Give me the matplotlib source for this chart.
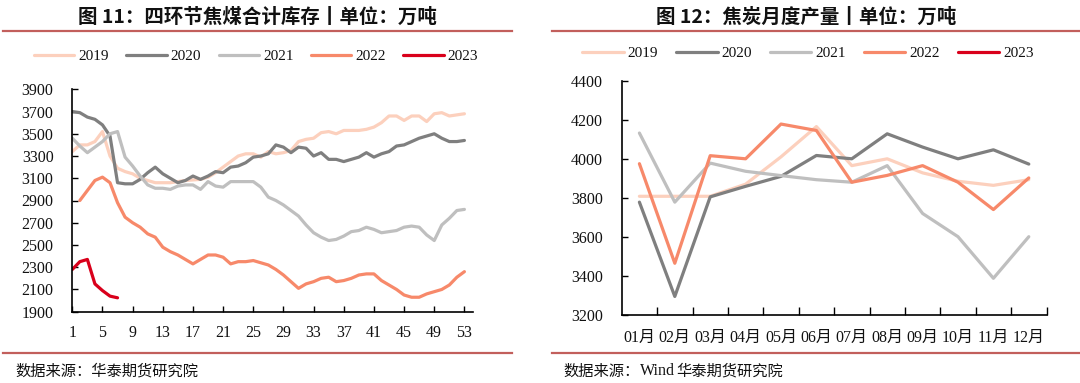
import numpy as np
import matplotlib
matplotlib.use("Agg")
import matplotlib.pyplot as plt
from matplotlib.lines import Line2D

# ---------------- data ----------------
weeks = list(range(1, 54))
week_ticks = list(range(1, 54, 4))

inv_2019 = [3340, 3400, 3400, 3430, 3520, 3300, 3190, 3160, 3140, 3100,
            3080, 3060, 3060, 3060, 3070, 3080, 3085, 3090, 3110, 3150,
            3200, 3250, 3300, 3320, 3320, 3290, 3340, 3320, 3330, 3350,
            3430, 3450, 3460, 3510, 3520, 3500, 3530, 3530, 3530, 3540,
            3560, 3600, 3660, 3660, 3620, 3660, 3660, 3610, 3680, 3690,
            3660, 3670, 3680]
inv_2020 = [3700, 3690, 3650, 3630, 3580, 3480, 3060, 3050, 3050, 3090,
            3150, 3200, 3140, 3100, 3060, 3080, 3120, 3090, 3120, 3160,
            3150, 3200, 3210, 3240, 3290, 3300, 3320, 3400, 3380, 3330,
            3380, 3370, 3300, 3330, 3270, 3270, 3250, 3270, 3290, 3330,
            3290, 3320, 3340, 3390, 3400, 3430, 3460, 3480, 3500, 3460,
            3430, 3430, 3440]
inv_2021 = [3460, 3390, 3330, 3380, 3430, 3500, 3520, 3290, 3210, 3120,
            3040, 3010, 3010, 3000, 3030, 3040, 3040, 3000, 3070, 3030,
            3020, 3070, 3070, 3070, 3070, 3020, 2930, 2900, 2860, 2810,
            2760, 2680, 2610, 2570, 2540, 2550, 2580, 2620, 2630, 2660,
            2640, 2610, 2620, 2630, 2660, 2670, 2660, 2590, 2540, 2680,
            2740, 2810, 2820]
inv_2022 = [None, 2900, 2990, 3080, 3110, 3060, 2880, 2750, 2700, 2660,
            2600, 2570, 2480, 2440, 2410, 2370, 2330, 2370, 2410, 2410,
            2390, 2330, 2350, 2350, 2360, 2340, 2320, 2280, 2230, 2170,
            2110, 2150, 2170, 2200, 2210, 2170, 2180, 2200, 2230, 2240,
            2240, 2180, 2140, 2100, 2050, 2030, 2030, 2060, 2080, 2100,
            2140, 2210, 2260]
inv_2023 = [2280, 2350, 2370, 2150, 2090, 2040, 2025]

months = ["01月", "02月", "03月", "04月", "05月", "06月",
          "07月", "08月", "09月", "10月", "11月", "12月"]
prod_2019 = [3808, 3808, 3808, 3870, 4010, 4165, 3965, 4000, 3928, 3885, 3864, 3893]
prod_2020 = [3778, 3295, 3805, 3859, 3910, 4017, 4000, 4128, 4060, 4000, 4046, 3973]
prod_2021 = [4132, 3778, 3978, 3936, 3914, 3893, 3880, 3965, 3720, 3601, 3388, 3601]
prod_2022 = [3975, 3465, 4016, 4000, 4178, 4145, 3880, 3915, 3965, 3880, 3740, 3902]
prod_2023 = []

years = ["2019", "2020", "2021", "2022", "2023"]
colors = ["#FCD0BD", "#7F7F7F", "#BFBFBF", "#F7896A", "#D9001B"]

# ---------------- style ----------------
CJK = ["Noto Sans CJK SC", "DejaVu Sans"]
SERIF = ["Liberation Serif", "Noto Sans CJK SC"]
plt.rcParams["font.family"] = SERIF
LW = 2.3
RED = "#C25F5C"

fig = plt.figure(figsize=(10.8, 3.83), dpi=100)
W, H = 1080, 383

def fx(px):
    return px / W

def fy(py):
    return 1 - py / H

# title / separator lines
fig.text(fx(257), fy(17), "图 11：四环节焦煤合计库存丨单位：万吨", family=CJK,
         fontsize=14, fontweight="bold", ha="center", va="center", color="#111111")
fig.text(fx(806), fy(17), "图 12：焦炭月度产量丨单位：万吨", family=CJK,
         fontsize=14, fontweight="bold", ha="center", va="center", color="#111111")
for (x0, x1) in [(3, 512), (552, 1080)]:
    for yy in (30.5, 352.7):
        fig.add_artist(Line2D([fx(x0), fx(x1)], [fy(yy), fy(yy)], color=RED, lw=1.6))

fig.text(fx(15), fy(371), "数据来源：华泰期货研究院", family=CJK, fontsize=11,
         ha="left", va="center", color="#111111")
fig.text(fx(563), fy(371), "数据来源：", family=CJK, fontsize=11,
         ha="left", va="center", color="#111111")
fig.text(fx(563 + 77), fy(371), "Wind", family=SERIF, fontsize=11.5,
         ha="left", va="center", color="#111111")
fig.text(fx(563 + 77 + 36), fy(371), "华泰期货研究院", family=CJK, fontsize=11,
         ha="left", va="center", color="#111111")

def style_axes(ax):
    for s in ("top", "right"):
        ax.spines[s].set_visible(False)
    for s in ("left", "bottom"):
        ax.spines[s].set_linewidth(1.2)
        ax.spines[s].set_color("black")
    ax.tick_params(axis="both", which="major", direction="in", length=4.5,
                   width=1.0, colors="black", labelsize=11.5, labelcolor="#111111")

# ---------------- left chart ----------------
axL = fig.add_axes([fx(72.3), fy(311.7), fx(472.7) - fx(72.3), fy(89.3) - fy(311.7)])
for name, vals, c in zip(years, [inv_2019, inv_2020, inv_2021, inv_2022, inv_2023], colors):
    v = np.array([np.nan if x is None else x for x in vals], dtype=float)
    axL.plot(weeks[:len(v)], v, color=c, lw=LW, label=name,
             solid_joinstyle="round", solid_capstyle="round")
axL.set_xlim(1, 54.1)
axL.set_ylim(1900, 3900)
axL.set_yticks(range(1900, 3901, 200))
axL.set_xticks(week_ticks)
style_axes(axL)
axL.tick_params(axis="y", pad=13.5)
axL.tick_params(axis="x", pad=9.5)
leg = axL.legend(loc="center", bbox_to_anchor=(fx(256), fy(56.5)),
                 bbox_transform=fig.transFigure, ncol=5, frameon=False,
                 fontsize=11, handlelength=2.65, handletextpad=0.25,
                 columnspacing=1.15, borderaxespad=0, borderpad=0)
for t in leg.get_texts():
    t.set_color("#111111")

# ---------------- right chart ----------------
axR = fig.add_axes([fx(621.7), fy(315), fx(1046.5) - fx(621.7), fy(80.7) - fy(315)])
xm = np.arange(len(months))
for name, vals, c in zip(years, [prod_2019, prod_2020, prod_2021, prod_2022, prod_2023], colors):
    axR.plot(xm[:len(vals)], vals, color=c, lw=LW, label=name,
             solid_joinstyle="round", solid_capstyle="round")
axR.set_xlim(-0.5, 11.5)
axR.set_ylim(3200, 4400)
axR.set_yticks(range(3200, 4401, 200))
axR.set_xticks(np.arange(0.5, 11.6, 1.0))
axR.set_xticklabels([])
axR.set_xticks(xm, minor=True)
axR.set_xticklabels(months, minor=True)
style_axes(axR)
axR.tick_params(axis="x", which="major", length=6)
axR.tick_params(axis="x", which="minor", length=0, pad=10.5, labelsize=11.5,
                labelcolor="#111111")
axR.tick_params(axis="y", pad=13.4)
legR = axR.legend(loc="center", bbox_to_anchor=(fx(808), fy(53.3)),
                  bbox_transform=fig.transFigure, ncol=5, frameon=False,
                  fontsize=11, handlelength=2.7, handletextpad=0.25,
                  columnspacing=1.2, borderaxespad=0, borderpad=0)
for t in legR.get_texts():
    t.set_color("#111111")

fig.savefig("out.png", dpi=100)
